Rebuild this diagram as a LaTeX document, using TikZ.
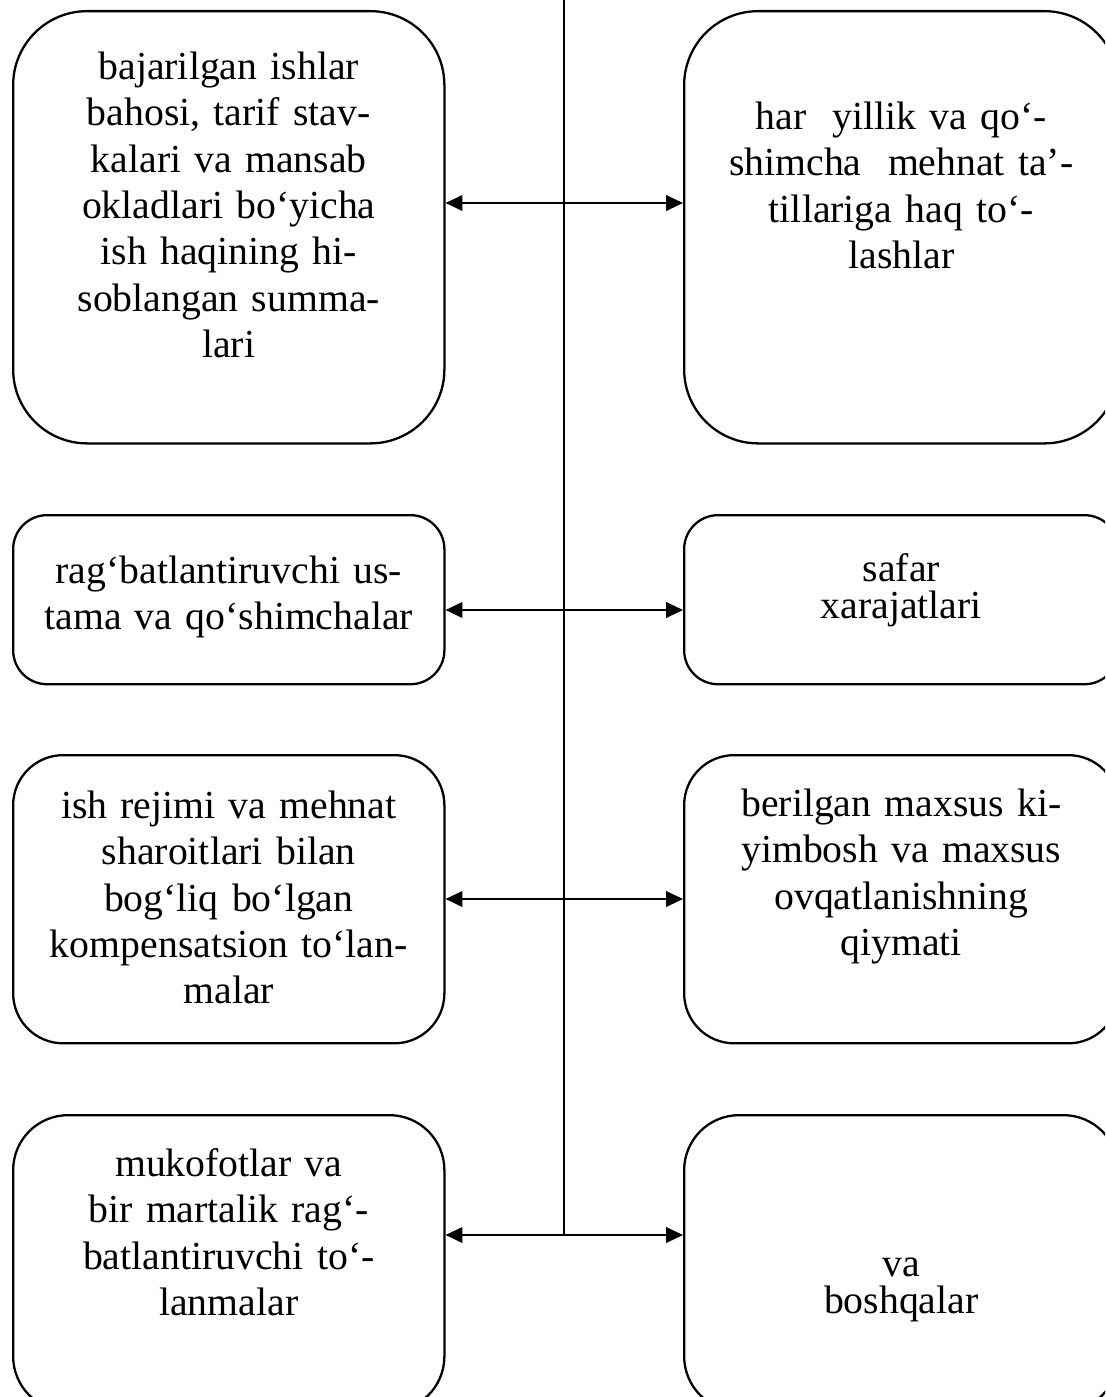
\documentclass[tikz,border=0pt]{standalone}
\usepackage{fontspec}
\setmainfont{Liberation Serif}
\usetikzlibrary{arrows.meta}
\newcommand{\boxfont}{\fontsize{11.3pt}{13.2pt}\selectfont}
\newcommand{\tightfont}{\fontsize{11.3pt}{10.5pt}\selectfont}

\begin{document}
\begin{tikzpicture}[x=0.01cm,y=-0.01cm,>={Triangle[length=4.8pt,width=4.4pt]},
    box/.style={draw,line width=0.65pt,inner sep=0pt,text width=4.31cm,
      align=center,font=\boxfont,anchor=north west},
    rbox/.style={box,text width=4.34cm}]
      \useasboundingbox (0,0) rectangle (1105,1397);
      \clip (0,0) rectangle (1105,1397);
      % left column
      \node[box,rounded corners=0.74cm,text height=0.68cm,text depth=3.64cm] (l1) at (12,10)
        {bajarilgan ishlar\\ bahosi, tarif stav-\\ kalari va mansab\\ okladlari bo‘yicha\\
         ish haqining hi-\\ soblangan summa-\\ lari};
      \node[box,rounded corners=0.34cm,text height=0.68cm,text depth=1.01cm] (l2) at (12,514)
        {rag‘batlantiruvchi us-\\ tama va qo‘shimchalar};
      \node[box,rounded corners=0.5cm,text height=0.63cm,text depth=2.25cm] (l3) at (12,754)
        {ish rejimi va mehnat\\ sharoitlari bilan\\ bog‘liq bo‘lgan\\
         kompensatsion to‘lan-\\ malar};
      \node[box,rounded corners=0.55cm,text height=0.61cm,text depth=2.35cm] (l4) at (12,1114)
        {mukofotlar va\\ bir martalik rag‘-\\ batlantiruvchi to‘-\\ lanmalar};
      % right column
      \node[rbox,rounded corners=0.74cm,text height=1.18cm,text depth=3.14cm] (r1) at (683,10)
        {har~~yillik va qo‘-\\ shimcha~~mehnat ta’-\\ tillariga haq to‘-\\ lashlar};
      \node[rbox,font=\tightfont,rounded corners=0.34cm,text height=0.66cm,text depth=1.03cm] (r2) at (683,514)
        {safar\\ xarajatlari};
      \node[rbox,rounded corners=0.5cm,text height=0.61cm,text depth=2.27cm] (r3) at (683,754)
        {berilgan maxsus ki-\\ yimbosh va maxsus\\ ovqatlanishning\\ qiymati};
      \node[rbox,font=\tightfont,rounded corners=0.55cm,text height=1.61cm,text depth=1.35cm] (r4) at (683,1114)
        {va\\ boshqalar};
      % spine and links
      \coordinate (top) at (564,0);
      \coordinate (s1) at (564,203);
      \coordinate (s2) at (564,610);
      \coordinate (s3) at (564,899);
      \coordinate (s4) at (564,1235);
      \draw[line width=0.6pt] (top) -- (s4);
      \foreach \i in {1,...,4}{
        \draw[<->,line width=0.65pt] (l\i.east |- s\i) -- (r\i.west |- s\i);}
    \end{tikzpicture}
\end{document}
